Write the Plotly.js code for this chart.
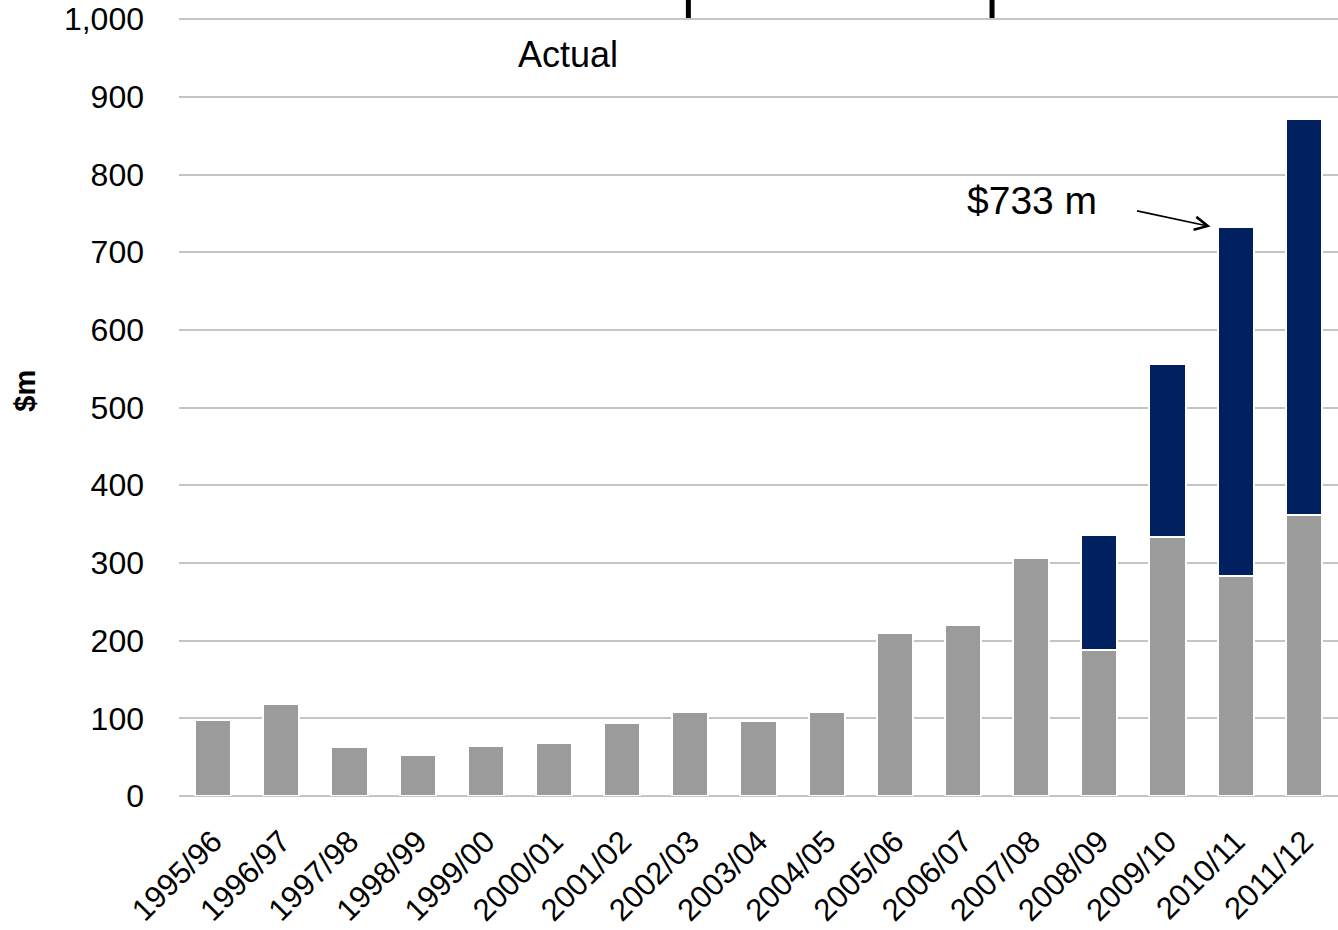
<!DOCTYPE html>
<html>
<head>
<meta charset="utf-8">
<script src="https://cdn.plot.ly/plotly-3.0.1.min.js"></script>
<style>html,body{margin:0;padding:0;background:#fff;}#chart{width:1338px;height:930px;}</style>
</head>
<body>
<div id="chart"></div>
<script>
const categories = ["1995/96","1996/97","1997/98","1998/99","1999/00","2000/01","2001/02","2002/03","2003/04","2004/05","2005/06","2006/07","2007/08","2008/09","2009/10","2010/11","2011/12"];
const actualValues = [98,118,63,53,64,68,94,108,97,108,210,220,306,188,333,283,362];
const additionalValues = [0,0,0,0,0,0,0,0,0,0,0,0,0,148,223,450,509];
const yTickValues = [0,100,200,300,400,500,600,700,800,900,1000];
const yTickLabels = ["0","100","200","300","400","500","600","700","800","900","1,000"];

const FONT = "Liberation Sans, Arial, sans-serif";

const traces = [
  {type:"bar", x:categories, y:actualValues, name:"Actual",
   marker:{color:"#9b9b9b", line:{color:"#ffffff", width:2}}, hoverinfo:"x+y"},
  {type:"bar", x:categories, y:additionalValues, name:"Additional",
   marker:{color:"#00205f", line:{color:"#ffffff", width:2}}, hoverinfo:"x+y"}
];

const layout = {
  width:1338, height:930,
  margin:{l:179, r:0, t:18, b:134},
  barmode:"stack",
  bargap:0.47,
  showlegend:false,
  paper_bgcolor:"#ffffff", plot_bgcolor:"#ffffff",
  font:{family:FONT, color:"#000000"},
  xaxis:{type:"category", tickangle:-45, tickfont:{size:31, family:FONT},
         showgrid:false, showline:false, ticks:"", ticklabelstandoff:20},
  yaxis:{range:[0,1001.5], tickvals:yTickValues, ticktext:yTickLabels,
         tickfont:{size:32, family:FONT}, showgrid:true, gridcolor:"#c4c4c4", gridwidth:2,
         zeroline:true, zerolinecolor:"#c4c4c4", zerolinewidth:2,
         showline:false, ticks:"", ticklabelstandoff:34, fixedrange:true},
  shapes:[
    {type:"line", xref:"paper", yref:"paper", x0:0.4395, x1:0.4395, y0:1.0, y1:1.03, line:{color:"#000", width:5}},
    {type:"line", xref:"paper", yref:"paper", x0:0.7015, x1:0.7015, y0:1.0, y1:1.03, line:{color:"#000", width:5}}
  ],
  annotations:[
    {xref:"paper", yref:"paper", x:-0.1329, y:0.521, text:"<b>$m</b>", textangle:-90, showarrow:false,
     font:{size:29, family:FONT, color:"#000"}, xanchor:"center", yanchor:"middle"},
    {xref:"paper", yref:"y", x:0.3356, y:954, text:"Actual", showarrow:false,
     font:{size:36, family:FONT, color:"#000"}, xanchor:"center", yanchor:"middle"},
    {xref:"paper", yref:"y", x:0.7363, y:766, text:"$733 m", showarrow:false,
     font:{size:39, family:FONT, color:"#000"}, xanchor:"center", yanchor:"middle"},
    {xref:"x", yref:"y", x:14.63, y:733, text:"", showarrow:true,
     arrowhead:5, arrowsize:1.6, arrowwidth:1.6, arrowcolor:"#000", ax:-75, ay:-16, standoff:0}
  ]
};

Plotly.newPlot("chart", traces, layout, {displayModeBar:false, staticPlot:true});
</script>
</body>
</html>
